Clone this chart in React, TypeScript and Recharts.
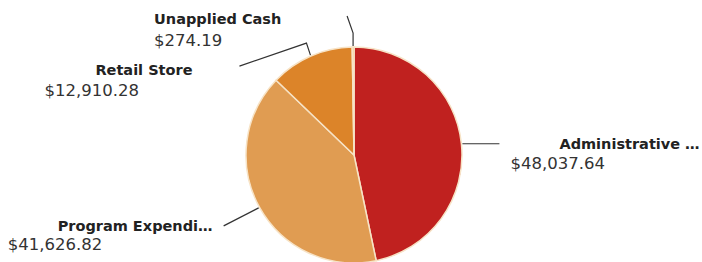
import { PieChart, Pie, Cell } from 'recharts';

// ─── Data ─────────────────────────────────────────────────────────────────────

const categories = ['Administrative …', 'Program Expendi…', 'Retail Store', 'Unapplied Cash'];
const amounts = [48037.64, 41626.82, 12910.28, 274.19];
const sliceColors = ['#c0211f', '#e09c52', '#dc8429', '#f2b866'];

// leader-line bends (relative to the slice edge) and text offsets (relative to the line end)
const labelLayout = [
    { bends: [[37, 0]], titleDx: 60, titleDy: 0, valueDx: 11, valueDy: 20 },
    { bends: [[-35, 18]], titleDx: -166, titleDy: 0, valueDx: -216, valueDy: 19 },
    { bends: [[-4, -12], [-67, 23]], titleDx: -144, titleDy: 4, valueDx: -195, valueDy: 24 },
    { bends: [[0, -13], [-6, -17]], titleDx: -193, titleDy: 3, valueDx: -193, valueDy: 24 },
];

const chartData = categories.map((name, i) => ({ name, value: amounts[i] }));

const RAD = Math.PI / 180;
const money = (v: number) =>
    `$${v.toLocaleString('en-US', { minimumFractionDigits: 2, maximumFractionDigits: 2 })}`;

// ─── Label ────────────────────────────────────────────────────────────────────

function SliceLabel(props: any) {
    const { cx, cy, midAngle, outerRadius, index, value, name } = props;
    const layout = labelLayout[index];
    const r = outerRadius + 1;
    let x = cx + r * Math.cos(-midAngle * RAD);
    let y = cy + r * Math.sin(-midAngle * RAD);
    const pts: number[][] = [[x, y]];
    for (const [dx, dy] of layout.bends) {
        x += dx;
        y += dy;
        pts.push([x, y]);
    }
    return (
        <g>
            <polyline
                points={pts.map((p) => p.join(',')).join(' ')}
                fill="none"
                stroke="#333"
                strokeWidth={1.2}
            />
            <text
                x={x + layout.titleDx}
                y={y + layout.titleDy}
                dominantBaseline="central"
                fontFamily="DejaVu Sans, Verdana, sans-serif"
                fontSize={14.5}
                fontWeight="bold"
                fill="#222"
            >
                {name}
            </text>
            <text
                x={x + layout.valueDx}
                y={y + layout.valueDy}
                dominantBaseline="central"
                fontFamily="DejaVu Sans, Verdana, sans-serif"
                fontSize={16.5}
                fill="#333"
            >
                {money(value)}
            </text>
        </g>
    );
}

// ─── Component ────────────────────────────────────────────────────────────────

export default function App() {
    return (
        <div style={{ position: 'absolute', left: 0, top: 0, width: 702, height: 262, background: '#fff' }}>
            <PieChart width={702} height={262} margin={{ top: 0, right: 0, bottom: 0, left: 0 }}>
                <Pie
                    data={chartData}
                    dataKey="value"
                    nameKey="name"
                    cx={354}
                    cy={155}
                    outerRadius={108}
                    startAngle={90}
                    endAngle={-270}
                    stroke="#f7e3c6"
                    strokeWidth={1.5}
                    label={SliceLabel}
                    labelLine={false}
                    isAnimationActive={false}
                >
                    {chartData.map((d, i) => (
                        <Cell key={d.name} fill={sliceColors[i]} />
                    ))}
                </Pie>
            </PieChart>
        </div>
    );
}
